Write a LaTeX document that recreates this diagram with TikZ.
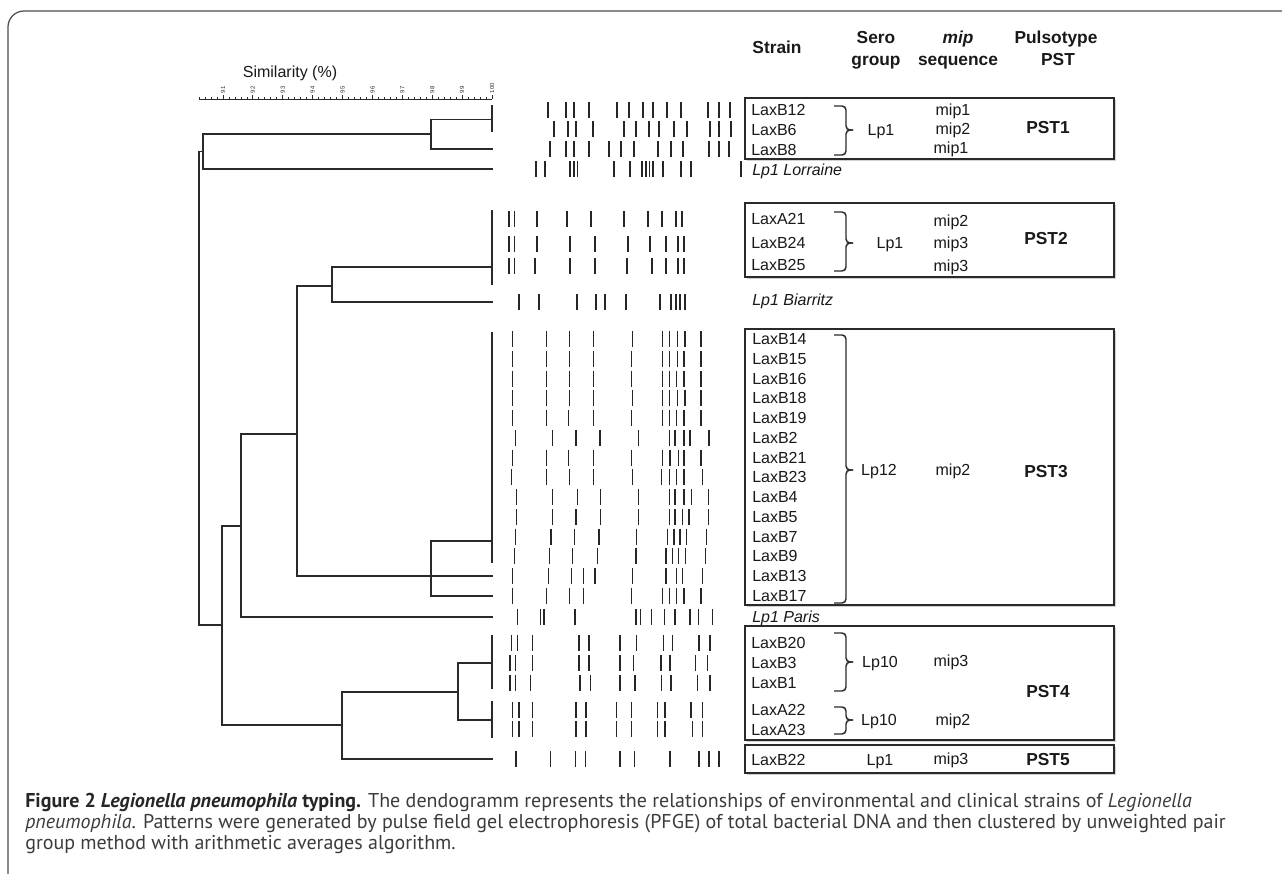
\documentclass[tikz,border=0pt]{standalone}
\usepackage{fontspec}
\setmainfont{Liberation Sans}
\newfontfamily\capfont{PT Sans}
\definecolor{ink}{HTML}{2A2A2A}
\definecolor{capink}{HTML}{3C3C3C}
\tikzset{
  dend/.style={draw=ink, line width=1pt, line cap=rect},
  band/.style={draw=black!85, line width=1pt},
  axisline/.style={draw=ink, line width=0.6pt},
  pbox/.style={draw=ink, line width=0.8pt},
  pshadow/.style={fill=black!18, draw=none},
  brc/.style={draw=ink, line width=1.1pt, rounded corners=3},
  lab/.style={font=\fontsize{12}{14}\selectfont, inner sep=0pt, text height=8.6pt, text depth=0pt, text=black!90},
  ilab/.style={lab, font=\fontsize{12}{14}\selectfont\itshape},
  hdr/.style={font=\fontsize{13}{15}\selectfont\bfseries, inner sep=0pt, text height=9.3pt, text depth=0pt, text=black!90},
  pst/.style={hdr},
  tick/.style={font=\fontsize{4.5}{5}\selectfont, inner sep=0pt, rotate=90, anchor=west, text=black!80},
  capl/.style={font=\capfont\fontsize{15}{17}\selectfont, inner sep=0pt, anchor=base west, text=capink},
  frame/.style={draw=black!70, line width=0.9pt, rounded corners=12}
}
\newcommand\bandrow[2]{\foreach \bx in {#2}{\draw[band] (\bx,#1-8) -- (\bx,#1+8);}}
\newcommand\rbr[3]{\draw[brc] (834,#1) -- (846,#1) -- (846,#3) -- (853,#3);
  \draw[brc] (853,#3) -- (846,#3) -- (846,#2) -- (834,#2);}
\newcommand\pbx[3]{\fill[pshadow] (#1+2,#2+2) rectangle (1116,#3+2);
  \draw[pbox, fill=white] (#1,#2) rectangle (1114,#3);}
\begin{document}
\begin{tikzpicture}[x=0.75pt,y=-0.75pt]
\useasboundingbox (0,0) rectangle (1282,874);
\fill[white] (0,0) rectangle (1282,874);
% frame
\draw[frame] (8,874) -- (8,11) -- (1282,11);

% scale
\node[lab] (simlab) at (290,72) {Similarity (\%)};
\draw[axisline] (199,99) -- (492,99);
\foreach \k in {0,...,49}{
  \pgfmathsetmacro\xx{492-29.89*(9.8-0.2*\k)}
  \draw[axisline] (\xx,99) -- (\xx,97);
}
\foreach \v in {91,...,100}{
  \pgfmathsetmacro\xx{492-29.89*(100-\v)}
  \draw[axisline] (\xx,99) -- (\xx,95);
  \node[tick] (t\v) at (\xx,93.5) {\v};
}

% dendrogram
\draw[dend] (199,151.5) -- (199,625);
\draw[dend] (199,151.5) -- (203,151.5);
\draw[dend] (203,134) -- (203,169);
\draw[dend] (203,134) -- (431,134);
\draw[dend] (431,119.5) -- (431,149);
\draw[dend] (431,119.5) -- (492,119.5);
\draw[dend] (492,106) -- (492,131);
\draw[dend] (431,149) -- (492,149);
\draw[dend] (203,169) -- (492,169);
\draw[dend] (199,625) -- (222,625);
\draw[dend] (222,526) -- (222,725);
\draw[dend] (222,526) -- (241,526);
\draw[dend] (241,434) -- (241,617);
\draw[dend] (241,617) -- (492,617);
\draw[dend] (241,434) -- (297,434);
\draw[dend] (297,286) -- (297,576);
\draw[dend] (297,576) -- (492,576);
\draw[dend] (297,286) -- (332,286);
\draw[dend] (332,267) -- (332,302);
\draw[dend] (332,267) -- (492,267);
\draw[dend] (332,302) -- (492,302);
\draw[dend] (492,211) -- (492,284);
\draw[dend] (492,333) -- (492,562);
\draw[dend] (431,541) -- (492,541);
\draw[dend] (431,541) -- (431,596);
\draw[dend] (431,596) -- (492,596);
\draw[dend] (222,725) -- (342,725);
\draw[dend] (342,692) -- (342,759);
\draw[dend] (342,759) -- (492,759);
\draw[dend] (342,692) -- (458,692);
\draw[dend] (458,663) -- (458,720);
\draw[dend] (458,663) -- (492,663);
\draw[dend] (458,720) -- (492,720);
\draw[dend] (492,636) -- (492,688);
\draw[dend] (492,702) -- (492,737);

% bands
\bandrow{110}{548,566,574,589,617,629,643,653,667,681,708,719,730}
\bandrow{129}{554,568,576,593,624,636,649,659,674,687,710,719,731}
\bandrow{149}{550,566,574,589,609,621,634,658,671,683,709,719,729}
\bandrow{169}{536,545,570,574,577.5,614,630,642,646,649.5,653,663,681,691,741}
\bandrow{219}{509,514.5,537,567,591,624,648,662,676,682}
\bandrow{244}{509,514.5,537,570,595,628,650,666,678,684}
\bandrow{266}{509,514.5,535,570,595,627,652,666,678,684}
\bandrow{302}{519,539,577,596,605,626,660,671,676,680,685}
\bandrow{339}{512.7,546.7,569.3,593.3,632.7,662.7,669.3,677.3,685,701}
\bandrow{358.75}{512.7,546.7,569.3,593.3,631.7,662.7,669.3,677.3,684,701}
\bandrow{378.5}{512.7,546.7,569.3,593.3,631.7,662.7,669.3,676.7,684,701}
\bandrow{398.25}{512.7,546.7,569.3,593.3,632.7,662.7,669.3,677.3,685,701}
\bandrow{418}{512.7,546.7,568.3,593.3,631.7,662.7,669.3,676.7,684,701}
\bandrow{437.75}{515.7,552.7,576,600,638.3,669.3,675,684,690,709}
\bandrow{457.5}{512.7,546.7,568.3,593.3,631.7,662.7,670,678.3,684,701}
\bandrow{477.25}{511.7,546.7,569.3,593.3,632.7,661.7,669.3,676.7,684,702.7}
\bandrow{497}{516.7,552.7,577.3,600.7,638.3,669.3,675,684,691.7,708.3}
\bandrow{516.75}{516.7,552.7,576,600.7,638.3,669.3,675,682.3,689,708.3}
\bandrow{536.5}{515.7,551,574.3,599,636.7,667.3,674,680,686.7,706.7}
\bandrow{556.25}{514.7,549.3,572.7,597.3,636,666,672.7,678.3,685.7,705.7}
\bandrow{576}{512.7,548.3,571.7,583.3,595,632.7,666,676.7,682.3,702.7}
\bandrow{595.75}{512.7,546.7,569.3,583.3,631.7,662.7,669.3,676.7,684,701}
\bandrow{617}{517.3,540.7,544,575,636,640.7,651.7,664.3,675,690,698.3,712.7}
\bandrow{643}{511.7,517.7,532.3,579,589,620,636.7,663.3,672.3,699,710}
\bandrow{663}{510,515.7,532.3,579,589,620,633.3,661,670,695.7,707.7}
\bandrow{683}{510,515.7,530.7,580,590.7,620,635,661.7,671,697.3,710}
\bandrow{710}{512.7,519,532.3,576,586,616.7,631.7,657.7,665,691,702.7}
\bandrow{729}{512.7,519,532.3,576,586,616.7,631.7,657.7,665,692.7,702.7}
\bandrow{759}{516,550.7,575.7,585.7,620,634.3,670,699,709,719}

% header
\node[hdr] (hStrain) at (777,47) {Strain};
\node[hdr] (hSero1) at (876,37) {Sero};
\node[hdr] (hSero2) at (876,59) {group};
\node[hdr] (hMip1) at (958,37) {\itshape mip};
\node[hdr] (hMip2) at (958,59) {sequence};
\node[hdr] (hPul1) at (1056,37) {Pulsotype};
\node[hdr] (hPul2) at (1058,59) {PST};

% boxes
\pbx{745}{98}{159}
\pbx{745}{203}{277}
\pbx{745}{329}{605}
\pbx{745}{626}{740}
\pbx{745}{745}{773}

% PST1
\node[lab, anchor=west] (s12) at (751,110) {LaxB12};
\node[lab, anchor=west] (s6) at (751,130) {LaxB6};
\node[lab, anchor=west] (s8) at (751,150) {LaxB8};
\rbr{106}{155}{130}
\node[lab] (g1) at (881,130) {Lp1};
\node[lab] (m12) at (953,110) {mip1};
\node[lab] (m6) at (953,129) {mip2};
\node[lab] (m8) at (951,148) {mip1};
\node[pst] (p1) at (1048,127) {PST1};
\node[ilab, anchor=west] (lor) at (752,170) {Lp1 Lorraine};

% PST2
\node[lab, anchor=west] (a21) at (751,219) {LaxA21};
\node[lab, anchor=west] (b24) at (751,243) {LaxB24};
\node[lab, anchor=west] (b25) at (751,265) {LaxB25};
\rbr{212}{271}{243}
\node[lab] (g2) at (890,243) {Lp1};
\node[lab] (ma21) at (951,221) {mip2};
\node[lab] (mb24) at (951,243) {mip3};
\node[lab] (mb25) at (951,266) {mip3};
\node[pst] (p2) at (1046,238) {PST2};
\node[ilab, anchor=west] (bia) at (752,300) {Lp1 Biarritz};

% PST3
\foreach \nm [count=\i from 0] in {LaxB14,LaxB15,LaxB16,LaxB18,LaxB19,LaxB2,LaxB21,LaxB23,LaxB4,LaxB5,LaxB7,LaxB9,LaxB13,LaxB17}{
  \node[lab, anchor=west] (c\i) at (752,339+19.75*\i) {\nm};
}
\rbr{335}{603}{470}
\node[lab] (g3) at (879,470) {Lp12};
\node[lab] (m3) at (953,470) {mip2};
\node[pst] (p3) at (1046,471) {PST3};
\node[ilab, anchor=west] (par) at (752,617) {Lp1 Paris};

% PST4
\node[lab, anchor=west] (b20) at (751,643) {LaxB20};
\node[lab, anchor=west] (b3) at (751,663) {LaxB3};
\node[lab, anchor=west] (b1) at (751,683) {LaxB1};
\node[lab, anchor=west] (a22) at (751,710) {LaxA22};
\node[lab, anchor=west] (a23) at (751,730) {LaxA23};
\rbr{633}{691}{662}
\rbr{707}{734}{720}
\node[lab] (g4a) at (880,662) {Lp10};
\node[lab] (m4a) at (951,661) {mip3};
\node[lab] (g4b) at (879,720) {Lp10};
\node[lab] (m4b) at (953,720) {mip2};
\node[pst] (p4) at (1048,691) {PST4};

% PST5
\node[lab, anchor=west] (b22) at (751,760) {LaxB22};
\node[lab] (g5) at (880,760) {Lp1};
\node[lab] (m5) at (951,759) {mip3};
\node[pst] (p5) at (1048,759) {PST5};

% caption
\node[capl] (cap1) at (25,807) {{\color{black!85}\bfseries Figure 2 \itshape Legionella pneumophila\upshape\ typing.} The dendogramm represents the relationships of environmental and clinical strains of \textit{Legionella}};
\node[capl] (cap2) at (25,828) {\textit{pneumophila}. Patterns were generated by pulse field gel electrophoresis (PFGE) of total bacterial DNA and then clustered by unweighted pair};
\node[capl] (cap3) at (25,849) {group method with arithmetic averages algorithm.};
\end{tikzpicture}
\end{document}
